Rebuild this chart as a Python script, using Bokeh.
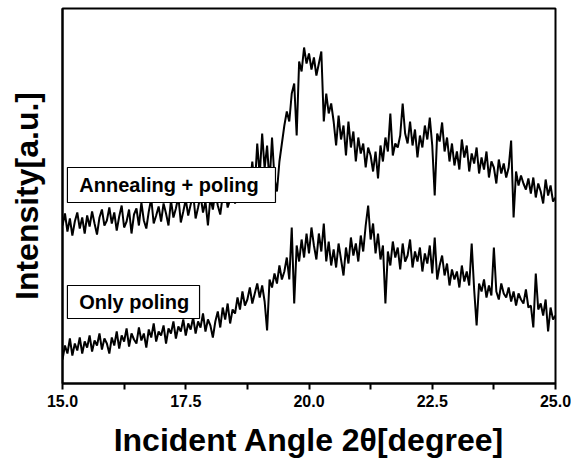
from bokeh.plotting import figure
from bokeh.models import FixedTicker, Range1d, BoxAnnotation, Label
from bokeh.embed import file_html
from bokeh.resources import INLINE

# ---- data ----
two_theta_start = 15.0
two_theta_step = 0.05

annealing_poling = [
    158, 170, 152, 165, 148, 162, 171, 155, 166, 150,
    168, 157, 172, 160, 149, 166, 174, 158, 163, 176,
    160, 171, 153, 167, 178, 156, 162, 174, 150, 169,
    175, 158, 181, 163, 155, 172, 185, 160, 168, 177,
    162, 180, 170, 158, 183, 166, 175, 187, 161, 172,
    184, 168, 179, 190, 165, 176, 188, 171, 182, 158,
    186, 174, 192, 178, 169, 188, 195, 176, 184, 198,
    180, 193, 186, 205, 190, 212, 198, 222, 196, 240,
    208, 250, 215, 238, 200, 246, 205, 192, 222, 240,
    258, 272, 262, 290, 300, 248, 322, 312, 336, 320,
    330, 314, 326, 308, 320, 332, 262, 290, 270, 280,
    262, 238, 268, 244, 258, 228, 262, 236, 252, 222,
    246, 230, 240, 216, 236, 228, 212, 232, 205, 238,
    222, 246, 232, 270, 228, 240, 236, 248, 280, 250,
    240, 262, 238, 254, 226, 248, 236, 258, 244, 266,
    238, 188, 250, 242, 261, 232, 246, 222, 240, 218,
    232, 214, 244, 226, 238, 212, 230, 220, 236, 210,
    226, 214, 232, 206, 222, 216, 200, 224, 210, 220,
    206, 216, 243, 166, 212, 198, 208, 200, 194, 205,
    190, 206, 186, 200, 192, 180, 204, 188, 198, 182,
    186,
]

only_poling = [
    24, 38, 30, 45, 28, 40, 33, 46, 30, 42,
    36, 48, 32, 43, 38, 50, 34, 45, 40, 30,
    46, 38, 52, 35, 48, 42, 55, 37, 50, 44,
    40, 56, 43, 50, 36, 54, 46, 60, 42, 52,
    48, 58, 40, 55, 50, 62, 45, 57, 52, 64,
    48, 60, 54, 66, 50, 62, 56, 70, 52, 64,
    58, 46, 62, 72, 56, 76, 64, 80, 60, 74,
    70, 86, 74, 92, 78, 84, 96, 80, 90, 100,
    86, 98, 82, 53, 104, 96, 110, 100, 118, 104,
    112, 126, 104, 156, 80, 138, 122, 144, 126, 150,
    130, 156, 138, 124, 150, 132, 160, 122, 142, 118,
    134, 116, 140, 124, 108, 136, 120, 146, 128, 140,
    122, 148, 132, 158, 178, 144, 160, 130, 150, 124,
    138, 80, 132, 118, 142, 126, 136, 114, 140, 122,
    128, 144, 116, 132, 122, 136, 112, 130, 120, 138,
    110, 146, 104, 118, 128, 108, 120, 98, 114, 104,
    112, 96, 118, 102, 112, 98, 140, 94, 58, 100,
    92, 104, 86, 98, 88, 136, 92, 84, 100, 90,
    86, 96, 82, 92, 78, 90, 84, 80, 94, 76,
    78, 56, 110, 74, 80, 68, 84, 52, 76, 64,
    68,
]

x_ticks = [15.0, 17.5, 20.0, 22.5, 25.0]
x_tick_labels = ["15.0", "17.5", "20.0", "22.5", "25.0"]
x_minor_ticks = [16.25, 18.75, 21.25, 23.75]

series_labels = ["Annealing + poling", "Only poling"]
x_label = "Incident Angle 2\u03b8[degree]"
y_label = "Intensity[a.u.]"

two_theta = [round(two_theta_start + i * two_theta_step, 2) for i in range(len(annealing_poling))]

FONT = "Liberation Sans"

p = figure(frame_width=493, frame_height=375,
           x_range=Range1d(15, 25), y_range=Range1d(0, 375),
           output_backend="svg", toolbar_location=None,
           min_border_left=62, min_border_right=16,
           min_border_top=8, min_border_bottom=79)
p.background_fill_color = "white"
p.border_fill_color = "white"
p.grid.visible = False
p.outline_line_color = "black"
p.outline_line_width = 2

p.line(two_theta, annealing_poling, line_color="black", line_width=2)
p.line(two_theta, only_poling, line_color="black", line_width=2)

# x axis
xa = p.xaxis[0]
xa.ticker = FixedTicker(ticks=x_ticks, minor_ticks=x_minor_ticks)
xa.major_label_overrides = {t: l for t, l in zip(x_ticks, x_tick_labels)}
xa.axis_line_width = 2
xa.major_tick_line_width = 2
xa.minor_tick_line_width = 2
xa.major_tick_in = 0
xa.major_tick_out = 6
xa.minor_tick_in = 0
xa.minor_tick_out = 6
xa.major_label_text_font = FONT
xa.major_label_text_font_style = "bold"
xa.major_label_text_font_size = "16px"
xa.major_label_text_color = "black"
xa.major_label_standoff = 5
xa.axis_label = x_label
xa.axis_label_text_font = FONT
xa.axis_label_text_font_style = "bold"
xa.axis_label_text_font_size = "32px"
xa.axis_label_text_color = "black"
xa.axis_label_standoff = 12

# y axis
ya = p.yaxis[0]
ya.ticker = FixedTicker(ticks=[])
ya.axis_line_width = 2
ya.major_tick_line_color = None
ya.minor_tick_line_color = None
ya.major_tick_out = 0
ya.major_label_text_font_size = "0px"
ya.major_label_standoff = 0
ya.axis_label = y_label
ya.axis_label_text_font = FONT
ya.axis_label_text_font_style = "bold"
ya.axis_label_text_font_size = "32px"
ya.axis_label_text_color = "black"
ya.axis_label_standoff = 18

# labelled boxes
box_specs = [
    (15.10, 19.32, 181, 216),
    (15.10, 17.78, 65, 98),
]
for (l, r, b, t), txt in zip(box_specs, series_labels):
    p.add_layout(BoxAnnotation(left=l, right=r, bottom=b, top=t,
                               fill_color="white", fill_alpha=1.0,
                               line_color="black", line_width=1.2, line_alpha=1.0))
    p.add_layout(Label(x=l + 0.24, y=(b + t) / 2, text=txt,
                       text_align="left", text_baseline="middle",
                       text_font=FONT, text_font_style="bold",
                       text_font_size="20px", text_color="black"))

open("out.html", "w").write(file_html(p, INLINE))
